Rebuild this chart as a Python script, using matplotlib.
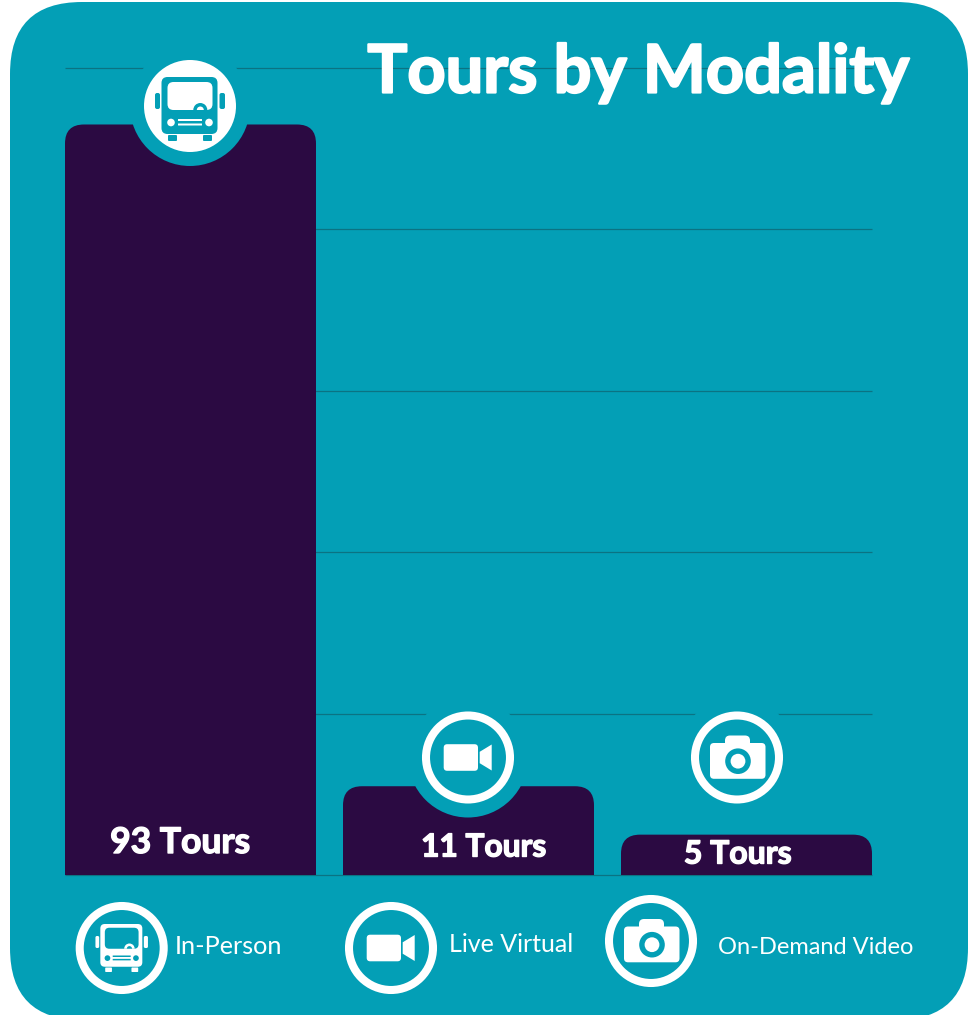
import matplotlib.pyplot as plt
from matplotlib.patches import Circle, FancyBboxPatch, PathPatch, Polygon, Wedge
from matplotlib.path import Path
from matplotlib import patheffects as pe

W, H = 972, 1015
TEAL, DARK, GRID, WHITE = '#039FB6', '#2B0A42', '#0B7383', '#FFFFFF'

categories = ['In-Person', 'Live Virtual', 'On-Demand Video']
tours = [93, 11, 5]
y_ticks = [0, 20, 40, 60, 80, 100]
title = 'Tours by Modality'
icons = ['bus', 'video', 'camera']

# pixel places of the decorations, y counted from the top
icon_xy = [(190, 106), (468, 757.5), (737, 757.5)]
value_xy = [(180, 843), (483.5, 847), (738, 854)]
value_size = [25.5, 22.8, 23]
legend_icon_xy = [(121.7, 948), (391, 948), (651, 941)]
legend_text_xy = [(175, 946.5), (449, 944.5), (718, 947.5)]
legend_size = [18.2, 18, 17]


def top_rounded(x0, x1, top, rx, ry):
    verts = [(x0, 0), (x0, top - ry), (x0, top), (x0 + rx, top), (x1 - rx, top),
             (x1, top), (x1, top - ry), (x1, 0), (x0, 0)]
    codes = [Path.MOVETO, Path.LINETO, Path.CURVE3, Path.CURVE3, Path.LINETO,
             Path.CURVE3, Path.CURVE3, Path.LINETO, Path.CLOSEPOLY]
    return Path(verts, codes)


def round_box(ov, x0, y0, x1, y1, r, color, z):
    ov.add_patch(FancyBboxPatch((x0, y0), x1 - x0, y1 - y0, boxstyle=f'round,pad=0,rounding_size={r}',
                                fc=color, ec='none', zorder=z))


def draw_bus(ov, cx, cy, k, fg, bg, z=6):
    def box(x0, y0, x1, y1, r, color, zz):
        round_box(ov, cx + k * x0, cy + k * y0, cx + k * x1, cy + k * y1, k * r, color, zz)

    box(-28.5, -32, 27.5, 25, 6, fg, z)
    box(-22.5, -27, 22.5, 1, 6, bg, z + 1)
    box(-35, -16, -30, 0, 2, fg, z)
    box(29.5, -16, 35, 0, 2, fg, z)
    box(-22, 26, -13, 32, 1, fg, z)
    box(13, 26, 22, 32, 1, fg, z)
    for sx in (-19, 19):
        ov.add_patch(Circle((cx + k * sx, cy + k * 13.5), 3.8 * k, fc=bg, ec='none', zorder=z + 1))
    box(-12, 10, 12, 12, 0.3, bg, z + 1)
    box(-12, 14.5, 12, 16.5, 0.3, bg, z + 1)
    ov.add_patch(Wedge((cx + k * 10.3, cy + k * 1), 7 * k, 180, 360, width=3.5 * k, fc=fg, ec='none', zorder=z + 2))


def draw_video(ov, cx, cy, fg=WHITE, z=6):
    round_box(ov, cx - 24.3, cy - 13.3, cx + 10, cy + 13.3, 3.5, fg, z)
    ov.add_patch(Polygon([(cx + 11.7, cy - 5.7), (cx + 23.7, cy - 13), (cx + 23.7, cy + 13), (cx + 11.7, cy + 5.7)],
                         fc=fg, ec='none', zorder=z))


def draw_camera(ov, cx, cy, fg=WHITE, bg=TEAL, z=6):
    round_box(ov, cx - 27, cy - 14.5, cx + 28.5, cy + 21.3, 4, fg, z)
    round_box(ov, cx - 12, cy - 22, cx + 13, cy - 10, 5, fg, z)
    ov.add_patch(Circle((cx + 1, cy + 3.7), 12.8, fc=bg, ec='none', zorder=z + 1))
    ov.add_patch(Circle((cx + 1, cy + 3.7), 7.4, fc=fg, ec='none', zorder=z + 2))


fig = plt.figure(figsize=(W / 100, H / 100), dpi=100, facecolor=WHITE)

# card behind everything
back = fig.add_axes([0, 0, 1, 1], zorder=0)
back.set(xlim=(0, W), ylim=(H, 0))
back.axis('off')
back.add_patch(FancyBboxPatch((10, 2), 958, 1018, boxstyle='round,pad=0,rounding_size=72', fc=TEAL, ec='none'))

# the chart itself
ax = fig.add_axes([65 / W, 1 - 875 / H, 807 / W, (875 - 68) / H], zorder=1)
ax.patch.set_alpha(0)
bar_w = 251 / 278
ax.set_xlim(-bar_w / 2, 2 + bar_w / 2)
ax.set_ylim(0, 100)
ax.set_yticks(y_ticks)
ax.set_xticks([])
ax.tick_params(length=0, labelleft=False)
ax.grid(axis='y', color=GRID, lw=0.9, zorder=0)
for line in ax.get_ygridlines():
    line.set_clip_on(False)
    line.set_solid_capstyle('butt')
for s in ax.spines.values():
    s.set_visible(False)
rx = 19 / 278
ry = 19 * 100 / 807
for i, v in enumerate(tours):
    ax.add_patch(PathPatch(top_rounded(i - bar_w / 2, i + bar_w / 2, v, rx, ry), fc=DARK, ec='none', zorder=3))

# icons and texts on top
ov = fig.add_axes([0, 0, 1, 1], zorder=2)
ov.set(xlim=(0, W), ylim=(H, 0))
ov.axis('off')

ov.text(909.5, 92.5, title, ha='right', va='baseline', color=WHITE, fontsize=48, family='Lato', weight='bold', zorder=8,
        path_effects=[pe.withStroke(linewidth=1.6, foreground=WHITE)])

for (cx, cy), kind in zip(icon_xy, icons):
    ov.add_patch(Circle((cx, cy), 60, fc=TEAL, ec='none', zorder=4))
    if kind == 'bus':
        ov.add_patch(Circle((cx, cy), 46, fc=WHITE, ec='none', zorder=5))
        draw_bus(ov, cx, cy + 3, 1, TEAL, WHITE)
    else:
        ov.add_patch(Circle((cx, cy), 42, fc='none', ec=WHITE, lw=5.8, zorder=5))
        (draw_video if kind == 'video' else draw_camera)(ov, cx, cy)

for v, (x, y), fs in zip(tours, value_xy, value_size):
    ov.text(x, y, f'{v} Tours', ha='center', va='center', color=WHITE, fontsize=fs, family='Lato', weight='bold', zorder=8,
            path_effects=[pe.withStroke(linewidth=1.0, foreground=WHITE)])

for (cx, cy), kind in zip(legend_icon_xy, icons):
    ov.add_patch(Circle((cx, cy), 42, fc='none', ec=WHITE, lw=5.8, zorder=5))
    if kind == 'bus':
        draw_bus(ov, cx, cy, 0.75, WHITE, TEAL)
    elif kind == 'video':
        draw_video(ov, cx, cy)
    else:
        draw_camera(ov, cx, cy)

for name, (x, y), fs in zip(categories, legend_text_xy, legend_size):
    ov.text(x, y, name, ha='left', va='center', color=WHITE, fontsize=fs, family='Lato', weight='normal', zorder=8)

fig.savefig('out.png', dpi=100, facecolor=WHITE)
